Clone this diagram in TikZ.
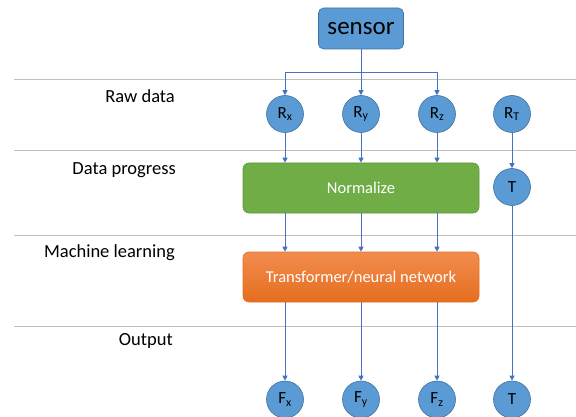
\documentclass[tikz,border=0pt]{standalone}
\usepackage{fontspec}
\setmainfont{Carlito}
\usetikzlibrary{arrows.meta}
\definecolor{nodeblue}{HTML}{5B9BD5}
\definecolor{nodeedge}{HTML}{41719C}
\definecolor{linkblue}{HTML}{4472C4}
\definecolor{sepgrey}{HTML}{BFBFBF}
\definecolor{normgreen}{HTML}{70AD47}
\definecolor{normedge}{HTML}{5E9A3A}
\definecolor{orangetop}{HTML}{F28C4F}
\definecolor{orangebot}{HTML}{E56E1E}
\tikzset{
  circ/.style={circle, fill=nodeblue, draw=nodeedge, line width=0.6pt, minimum size=37pt, inner sep=0pt, font=\fontsize{17}{20}\selectfont, text=black},
  procbox/.style={rounded corners=6pt, minimum width=236pt, minimum height=50pt, inner sep=0pt, text=white, font=\fontsize{16.5}{20}\selectfont},
  sensorbox/.style={rounded corners=5pt, fill=nodeblue, draw=nodeedge, line width=0.6pt, minimum width=85pt, minimum height=41pt, inner sep=0pt, font=\fontsize{25}{30}\selectfont},
  layerlabel/.style={anchor=east, inner sep=0pt, font=\fontsize{18.5}{22}\selectfont},
  sepline/.style={draw=sepgrey, line width=1pt},
  conn/.style={draw=linkblue, line width=0.9pt},
  arrow/.style={conn, -{Triangle[length=5pt, width=5pt]}}
}
\begin{document}
\begin{tikzpicture}[x=1pt, y=-1pt]
\useasboundingbox (0,0) rectangle (576,417);
% separators
\coordinate (s1a) at (14,80);  \coordinate (s1b) at (576,80);
\coordinate (s2a) at (14,151); \coordinate (s2b) at (576,151);
\coordinate (s3a) at (14,235); \coordinate (s3b) at (576,235);
\coordinate (s4a) at (14,326); \coordinate (s4b) at (576,326);
\draw[sepline] (s1a) -- (s1b);
\draw[sepline] (s2a) -- (s2b);
\draw[sepline] (s3a) -- (s3b);
\draw[sepline] (s4a) -- (s4b);
% layer labels
\node[layerlabel] (lraw) at (175,96) {Raw data};
\node[layerlabel] (lprog) at (176,170) {Data progress};
\node[layerlabel] (lml) at (175,253) {Machine learning};
\node[layerlabel] (lout) at (173,341) {Output};
% nodes
\node[sensorbox] (sensor) at (361,28.5) {sensor};
\node[circ] (Rx) at (285,114) {R\textsubscript{x}};
\node[circ] (Ry) at (361,114) {R\textsubscript{y}};
\node[circ] (Rz) at (437,114) {R\textsubscript{z}};
\node[circ] (RT) at (512,114) {R\textsubscript{T}};
\node[procbox, fill=normgreen, draw=normedge, line width=0.6pt] (norm) at (361,188) {Normalize};
\node[circ] (T1) at (512,187) {T};
\node[procbox, top color=orangetop, bottom color=orangebot, draw=orangebot, line width=0.6pt] (trans) at (361,277) {Transformer/neural network};
\node[circ] (Fx) at (285,399.5) {F\textsubscript{x}};
\node[circ] (Fy) at (361,399.5) {F\textsubscript{y}};
\node[circ] (Fz) at (437,399.5) {F\textsubscript{z}};
\node[circ] (T2) at (512,399.5) {T};
% sensor fan-out
\coordinate (bus) at (361,72);
\draw[arrow] (sensor.south) -- (bus) -| (Rx.north);
\draw[arrow] (sensor.south) -- (Ry.north);
\draw[arrow] (bus) -| (Rz.north);
% raw -> normalize
\draw[arrow] (Rx.south) -- (Rx.south |- norm.north);
\draw[arrow] (Ry.south) -- (Ry.south |- norm.north);
\draw[arrow] (Rz.south) -- (Rz.south |- norm.north);
\draw[arrow] (RT.south) -- (T1.north);
% normalize -> transformer
\draw[arrow] (Rx.south |- norm.south) -- (Rx.south |- trans.north);
\draw[arrow] (Ry.south |- norm.south) -- (Ry.south |- trans.north);
\draw[arrow] (Rz.south |- norm.south) -- (Rz.south |- trans.north);
% transformer -> outputs
\draw[arrow] (Fx.north |- trans.south) -- (Fx.north);
\draw[arrow] (Fy.north |- trans.south) -- (Fy.north);
\draw[arrow] (Fz.north |- trans.south) -- (Fz.north);
\draw[arrow] (T1.south) -- (T2.north);
\end{tikzpicture}
\end{document}
